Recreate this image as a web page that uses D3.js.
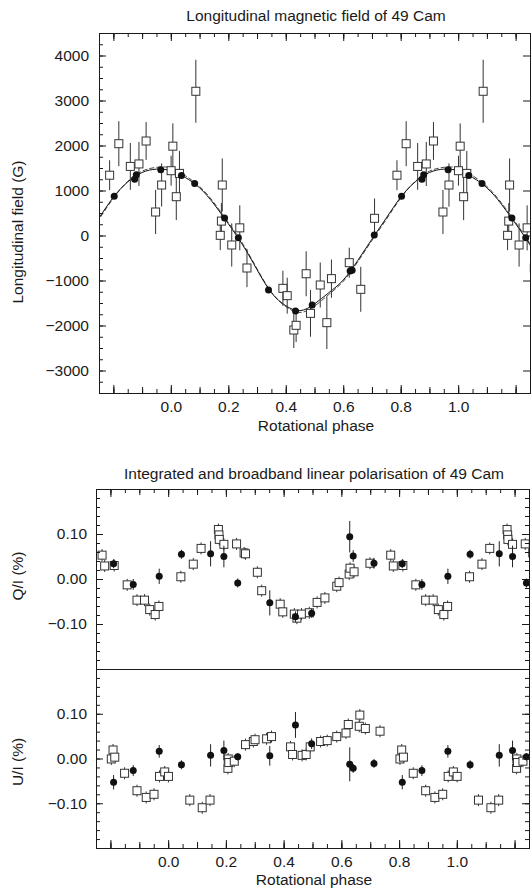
<!DOCTYPE html>
<html><head><meta charset="utf-8">
<script src="https://cdn.jsdelivr.net/npm/d3@7"></script>
<style>body{margin:0;background:#fff}svg{display:block}</style>
</head><body>
<script>
// ---------------- DATA ----------------
// Top panel: longitudinal field, open squares (phase, B, error)
const fieldSqPhase = [0.787,0.819,0.859,0.889,0.914,0.947,0.968,0.001,0.007,0.019,0.030,0.087,0.179,0.176,0.172,0.240,0.212,0.265,0.390,0.405,0.436,0.428,0.471,0.486,0.520,0.543,0.559,0.621,0.661,0.709];
const fieldSqB     = [1340,2040,1535,1590,2100,522,1122,1440,1985,862,1380,3205,1122,320,4,170,-211,-722,-1174,-1337,-1996,-2100,-850,-1730,-1100,-1937,-959,-604,-1196,382];
const fieldSqErr   = [333,500,520,490,420,490,480,333,505,520,500,700,590,400,330,500,480,425,390,400,370,400,500,520,500,585,425,333,500,440];
// Top panel: filled circles
const fieldDotPhase = [0.803,0.874,0.880,0.965,0.037,0.083,0.187,0.235,0.340,0.434,0.492,0.624,0.631,0.708];
const fieldDotB     = [870,1250,1350,1460,1335,1155,390,-50,-1210,-1680,-1545,-790,-770,10];
// Model curves (every 0.05 in phase)
const curvePhase  = [0,0.05,0.10,0.15,0.20,0.25,0.30,0.35,0.40,0.45,0.50,0.55,0.60,0.65,0.70,0.75,0.80,0.85,0.90,0.95];
const curveSolid  = [1440,1290,1060,700,260,-210,-760,-1270,-1560,-1670,-1520,-1270,-990,-560,-80,390,850,1190,1400,1475];
const curveDashed = [1500,1330,1090,730,290,-180,-740,-1260,-1580,-1710,-1570,-1310,-1020,-590,-110,360,830,1200,1430,1515];

// Bottom panels: integrated polarisation (open squares)
const qSqPhase = [0.044,0.087,0.114,0.174,0.176,0.177,0.193,0.237,0.263,0.268,0.309,0.324,0.388,0.397,0.437,0.446,0.462,0.489,0.516,0.543,0.584,0.592,0.627,0.630,0.644,0.699,0.771,0.780,0.813,0.858,0.892,0.918,0.936,0.955,0.968];
const qSqVal   = [0.005,0.033,0.068,0.110,0.098,0.088,0.077,0.078,0.058,0.056,0.015,-0.026,-0.056,-0.073,-0.078,-0.087,-0.078,-0.075,-0.052,-0.042,-0.016,-0.008,0.011,0.024,0.016,0.035,0.053,0.029,0.030,-0.013,-0.047,-0.047,-0.068,-0.079,-0.061];
const uSqPhase = [0.001,0.075,0.118,0.145,0.207,0.208,0.210,0.229,0.268,0.295,0.301,0.341,0.358,0.424,0.431,0.464,0.478,0.492,0.528,0.551,0.584,0.616,0.624,0.662,0.664,0.683,0.734,0.803,0.809,0.815,0.849,0.892,0.924,0.951,0.970,0.988];
const uSqVal   = [-0.040,-0.093,-0.110,-0.093,-0.022,-0.001,-0.009,-0.006,0.031,0.038,0.042,0.044,0.049,0.026,0.009,0.007,0.009,0.026,0.038,0.040,0.049,0.057,0.076,0.072,0.097,0.067,0.061,-0.001,0.019,0.003,-0.033,-0.072,-0.087,-0.080,-0.040,-0.030];
// Broadband polarisation (filled circles)
const bbPhase = [0.046,0.147,0.193,0.241,0.352,0.441,0.497,0.629,0.641,0.713,0.811,0.879,0.969];
const qDotVal = [0.055,0.056,0.050,-0.009,-0.053,-0.084,-0.076,0.094,0.051,0.035,0.034,-0.012,0.006];
const qDotErr = [0.010,0.028,0.024,0.010,0.028,0.012,0.010,0.035,0.013,0.012,0.010,0.012,0.017];
const uDotVal = [-0.014,0.007,0.018,0.004,0.006,0.075,0.033,-0.013,-0.022,-0.011,-0.053,-0.027,0.016];
const uDotErr = [0.010,0.025,0.022,0.008,0.022,0.029,0.012,0.038,0.010,0.010,0.016,0.012,0.014];

// Tick labels
const phaseTickLabels = [0.0,0.2,0.4,0.6,0.8,1.0];
const fieldTickLabels = [-3000,-2000,-1000,0,1000,2000,3000,4000];
const polTickLabels = [-0.10,0.00,0.10];

// ---------------- DRAWING ----------------
const W = 531, H = 892;
const FONT = '"Liberation Sans", Arial, Helvetica, sans-serif';
const FS = "15.5px";
const INK = "#1a1a1a";
const svg = d3.select("body").append("svg").attr("width", W).attr("height", H)
  .style("font-family", FONT);
svg.append("rect").attr("width", W).attr("height", H).attr("fill", "#fff");

// replicate a periodic series over the displayed phase range
function unfold(phases, vals, errs, lo, hi) {
  const out = [];
  [-1, 0, 1].forEach(k => phases.forEach((p, i) => {
    const x = p + k;
    if (x >= lo && x <= hi) out.push({x, y: vals[i], e: errs ? errs[i] : 0});
  }));
  return out.sort((a, b) => a.x - b.x);
}
const range = (a, b, s) => d3.range(Math.round((b - a) / s) + 1).map(i => +(a + i * s).toFixed(6));
const minus = s => s.replace("-", "\u2212");

function styleAxis(g) {
  g.select(".domain").remove();
  g.selectAll("line").attr("stroke", INK).attr("stroke-width", 1);
  g.selectAll("text").attr("fill", INK).style("font-size", FS).style("font-family", FONT);
}

function phaseAxes(x, yTop, yBottom, labelled, pad) {
  const minor = range(-0.25, 1.25, 0.05);
  const mid = range(-0.2, 1.2, 0.1);
  const major = range(-0.2, 1.2, 0.2);
  [[minor, 4], [mid, 6], [major, 8]].forEach(([vals, len]) => {
    svg.append("g").attr("transform", `translate(0,${yBottom})`)
      .call(d3.axisBottom(x).tickValues(vals).tickSize(-len).tickFormat("")).call(styleAxis);
    svg.append("g").attr("transform", `translate(0,${yTop})`)
      .call(d3.axisTop(x).tickValues(vals).tickSize(-len).tickFormat("")).call(styleAxis);
  });
  if (labelled) {
    svg.append("g").attr("transform", `translate(0,${yBottom})`)
      .call(d3.axisBottom(x).tickValues(phaseTickLabels).tickSize(0).tickPadding(pad)
        .tickFormat(d3.format(".1f"))).call(styleAxis);
  }
}

function frame(x0, y0, x1, y1) {
  svg.append("rect").attr("x", x0 + 0.5).attr("y", y0 + 0.5)
    .attr("width", x1 - x0).attr("height", y1 - y0)
    .attr("fill", "none").attr("stroke", INK).attr("stroke-width", 1);
}

function clip(id, x0, y0, x1, y1) {
  svg.append("clipPath").attr("id", id).append("rect")
    .attr("x", x0).attr("y", y0).attr("width", x1 - x0).attr("height", y1 - y0);
  return svg.append("g").attr("clip-path", `url(#${id})`);
}

function drawPoints(g, x, y, sq, dots, sqErrPx) {
  g.append("g").selectAll("line").data(sq).join("line")
    .attr("x1", d => x(d.x)).attr("x2", d => x(d.x))
    .attr("y1", d => d.e ? y(d.y + d.e) : y(d.y) - sqErrPx)
    .attr("y2", d => d.e ? y(d.y - d.e) : y(d.y) + sqErrPx)
    .attr("stroke", "#333").attr("stroke-width", 1);
  g.append("g").selectAll("rect").data(sq).join("rect")
    .attr("x", d => x(d.x) - 4).attr("y", d => y(d.y) - 4)
    .attr("width", 8).attr("height", 8)
    .attr("fill", "#fff").attr("stroke", "#333").attr("stroke-width", 1);
  g.append("g").selectAll("line").data(dots.filter(d => d.e)).join("line")
    .attr("x1", d => x(d.x)).attr("x2", d => x(d.x))
    .attr("y1", d => y(d.y + d.e)).attr("y2", d => y(d.y - d.e))
    .attr("stroke", "#222").attr("stroke-width", 1);
  g.append("g").selectAll("circle").data(dots).join("circle")
    .attr("cx", d => x(d.x)).attr("cy", d => y(d.y)).attr("r", 3.5)
    .attr("fill", "#111");
}

function yLabel(text, cy) {
  svg.append("text").attr("transform", `translate(23,${cy}) rotate(-90)`)
    .attr("text-anchor", "middle").attr("fill", INK).style("font-size", FS).text(text);
}
function hText(text, x, y) {
  svg.append("text").attr("x", x).attr("y", y).attr("text-anchor", "middle")
    .attr("fill", INK).style("font-size", FS).text(text);
}

// ======== Panel 1 ========
const P1 = {l: 99, r: 530, t: 33, b: 393};
const x1 = d3.scaleLinear([-0.25, 1.25], [P1.l, P1.r]);
const y1 = d3.scaleLinear([-3500, 4500], [P1.b, P1.t]);

hText("Longitudinal magnetic field of 49 Cam", 316, 21);

const g1 = clip("c1", P1.l, P1.t, P1.r + 1, P1.b);
const curvePts = arr => unfold(curvePhase, arr, null, -0.45, 1.45);
const line1 = d3.line().x(d => x1(d.x)).y(d => y1(d.y)).curve(d3.curveNatural);
g1.append("path").attr("d", line1(curvePts(curveDashed))).attr("fill", "none")
  .attr("stroke", "#333").attr("stroke-width", 0.9).attr("stroke-dasharray", "5,2");
g1.append("path").attr("d", line1(curvePts(curveSolid))).attr("fill", "none")
  .attr("stroke", "#111").attr("stroke-width", 1);
drawPoints(g1, x1, y1,
  unfold(fieldSqPhase, fieldSqB, fieldSqErr, -0.3, 1.3),
  unfold(fieldDotPhase, fieldDotB, null, -0.3, 1.3), 0);

frame(P1.l, P1.t, P1.r, P1.b);
phaseAxes(x1, P1.t, P1.b, true, 8);
[[range(-3500, 4500, 250), 4], [range(-3000, 4000, 1000), 7]].forEach(([vals, len]) => {
  svg.append("g").attr("transform", `translate(${P1.l},0)`)
    .call(d3.axisLeft(y1).tickValues(vals).tickSize(-len).tickFormat("")).call(styleAxis);
});
svg.append("g").attr("transform", `translate(${P1.r},0)`)
  .call(d3.axisRight(y1).tickValues(range(-3000, 4000, 1000)).tickSize(-7).tickFormat("")).call(styleAxis);
svg.append("g").attr("transform", `translate(${P1.l},0)`)
  .call(d3.axisLeft(y1).tickValues(fieldTickLabels).tickSize(0).tickPadding(10)
    .tickFormat(d => minus(d3.format("d")(d)))).call(styleAxis);

hText("Rotational phase", 316, 431);
yLabel("Longitudinal field (G)", 232);

// ======== Panel 2 ========
const P2 = {l: 96, r: 529, t: 489, m: 669, b: 848};
const x2 = d3.scaleLinear([-0.25, 1.25], [P2.l, P2.r]);
const yQ = d3.scaleLinear([-0.2, 0.2], [P2.m, P2.t]);
const yU = d3.scaleLinear([-0.2, 0.2], [P2.b, P2.m]);

hText("Integrated and broadband linear polarisation of 49 Cam", 314, 479);

const gQ = clip("cq", P2.l, P2.t, P2.r + 1, P2.m);
drawPoints(gQ, x2, yQ,
  unfold(qSqPhase, qSqVal, null, -0.3, 1.3),
  unfold(bbPhase, qDotVal, qDotErr, -0.3, 1.3), 6);
const gU = clip("cu", P2.l, P2.m, P2.r + 1, P2.b);
drawPoints(gU, x2, yU,
  unfold(uSqPhase, uSqVal, null, -0.3, 1.3),
  unfold(bbPhase, uDotVal, uDotErr, -0.3, 1.3), 6);

frame(P2.l, P2.t, P2.r, P2.b);
svg.append("line").attr("x1", P2.l).attr("x2", P2.r + 1)
  .attr("y1", P2.m + 0.5).attr("y2", P2.m + 0.5).attr("stroke", INK).attr("stroke-width", 1);
phaseAxes(x2, P2.t, P2.b, true, 8);
[yQ, yU].forEach(y => {
  [[range(-0.18, 0.18, 0.02), 4], [[-0.1, 0, 0.1], 7]].forEach(([v, len]) => {
    svg.append("g").attr("transform", `translate(${P2.l},0)`)
      .call(d3.axisLeft(y).tickValues(v).tickSize(-len).tickFormat("")).call(styleAxis);
    svg.append("g").attr("transform", `translate(${P2.r},0)`)
      .call(d3.axisRight(y).tickValues(v).tickSize(-len).tickFormat("")).call(styleAxis);
  });
  svg.append("g").attr("transform", `translate(${P2.l},0)`)
    .call(d3.axisLeft(y).tickValues(polTickLabels).tickSize(0).tickPadding(9)
      .tickFormat(d => minus(d3.format(".2f")(d)))).call(styleAxis);
});

hText("Rotational phase", 314, 885);
yLabel("Q/I (%)", 576);
yLabel("U/I (%)", 762);
</script>
</body></html>
